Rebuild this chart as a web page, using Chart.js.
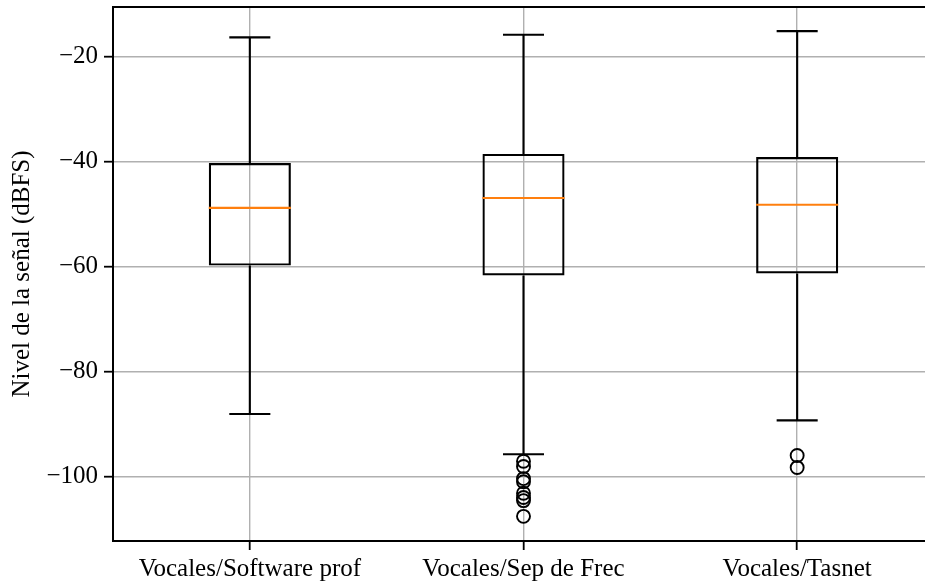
<!DOCTYPE html>
<html>
<head>
<meta charset="utf-8">
<script src="https://cdn.jsdelivr.net/npm/chart.js@4.4.1/dist/chart.umd.min.js"></script>
<style>
  html, body { margin: 0; padding: 0; background: #fff; overflow: hidden; }
  #wrap { width: 925px; height: 582px; overflow: hidden; position: relative; }
  #box-chart { display: block; }
</style>
</head>
<body>
<div id="wrap"><canvas id="box-chart" width="935" height="582"></canvas></div>
<script>
// data (dBFS)
var categories = ["Vocales/Software prof", "Vocales/Sep de Frec", "Vocales/Tasnet"];
var whiskerHigh = [-16.3, -15.8, -15.1];
var q3 = [-40.25, -38.5, -39.1];
var medians = [-48.8, -46.9, -48.2];
var q1 = [-59.8, -61.7, -61.3];
var whiskerLow = [-88.1, -95.75, -89.3];
var outliers = [
    [],
    [-97.1, -98.1, -100.4, -101.0, -103.2, -104.0, -104.6, -107.6],
    [-96.0, -98.3]
];
var yTicks = [-100, -80, -60, -40, -20];
var yMin = -112.3, yMax = -10.5;

var serif = "'Liberation Serif', 'Times New Roman', serif";

// whiskers, caps, medians and the top spine
var boxParts = {
    id: 'boxParts',
    afterDatasetsDraw: function(chart) {
        var ctx = chart.ctx, x = chart.scales.x, y = chart.scales.y;
        var step = x.getPixelForValue(1) - x.getPixelForValue(0);
        var boxHalf = step * 0.15, capHalf = step * 0.075;
        ctx.save();
        ctx.lineCap = 'butt';
        for (var i = 0; i < categories.length; i++) {
            var cx = x.getPixelForValue(i);
            var yHi = y.getPixelForValue(whiskerHigh[i]);
            var yLo = y.getPixelForValue(whiskerLow[i]);
            ctx.strokeStyle = '#000';
            ctx.lineWidth = 2.1;
            ctx.beginPath();
            ctx.moveTo(cx, y.getPixelForValue(q3[i]));
            ctx.lineTo(cx, yHi);
            ctx.moveTo(cx, y.getPixelForValue(q1[i]));
            ctx.lineTo(cx, yLo);
            ctx.moveTo(cx - capHalf, yHi);
            ctx.lineTo(cx + capHalf, yHi);
            ctx.moveTo(cx - capHalf, yLo);
            ctx.lineTo(cx + capHalf, yLo);
            ctx.stroke();

            var ym = y.getPixelForValue(medians[i]);
            ctx.strokeStyle = '#ff7f0e';
            ctx.beginPath();
            ctx.moveTo(cx - boxHalf, ym);
            ctx.lineTo(cx + boxHalf, ym);
            ctx.stroke();
        }
        var a = chart.chartArea;
        ctx.strokeStyle = '#000';
        ctx.lineWidth = 2;
        ctx.beginPath();
        ctx.moveTo(a.left, a.top);
        ctx.lineTo(a.right, a.top);
        ctx.stroke();
        ctx.restore();
    }
};

var flierPoints = [];
outliers.forEach(function(list, i) {
    list.forEach(function(v) { flierPoints.push({x: categories[i], y: v}); });
});

var chartData = {
    labels: categories,
    datasets: [{
        type: 'bar',
        label: 'caja',
        data: categories.map(function(c, i) { return [q1[i], q3[i]]; }),
        backgroundColor: 'rgba(0,0,0,0)',
        borderColor: '#000',
        borderWidth: 2.2,
        borderSkipped: false,
        barPercentage: 0.3,
        categoryPercentage: 1.0
    }, {
        type: 'line',
        label: 'atipicos',
        data: flierPoints,
        showLine: false,
        pointStyle: 'circle',
        pointRadius: 6.5,
        pointBorderWidth: 1.9,
        pointBorderColor: '#000',
        pointBackgroundColor: 'rgba(0,0,0,0)'
    }]
};

var chartOptions = {
    responsive: false,
    animation: false,
    devicePixelRatio: 1,
    // the right spine sits just past the visible edge, as in the reference
    layout: { autoPadding: false, padding: { top: 7, right: 1, left: 0, bottom: 0 } },
    plugins: {
        legend: { display: false },
        tooltip: { enabled: false }
    },
    scales: {
        x: {
            type: 'category',
            offset: true,
            grid: { offset: false, color: '#b0b0b0', lineWidth: 1.4, tickColor: '#000', tickWidth: 1.8, tickLength: 9 },
            border: { color: '#000', width: 2 },
            ticks: { color: '#000', font: { family: serif, size: 25 }, padding: 4, maxRotation: 0, autoSkip: false },
            afterFit: function(scale) {
                scale.height = 41;
                scale.paddingLeft = 0;
                scale.paddingRight = 0;
            }
        },
        y: {
            min: yMin,
            max: yMax,
            grid: { color: '#b0b0b0', lineWidth: 1.4, tickColor: '#000', tickWidth: 1.8, tickLength: 9 },
            border: { color: '#000', width: 2 },
            afterBuildTicks: function(scale) {
                scale.ticks = yTicks.map(function(v) { return { value: v }; });
            },
            ticks: {
                color: '#000',
                font: { family: serif, size: 25 },
                padding: 6,
                callback: function(v) { return v < 0 ? '\u2212' + Math.abs(v) : String(v); }
            },
            title: {
                display: true,
                text: 'Nivel de la señal (dBFS)',
                color: '#000',
                font: { family: serif, size: 25 },
                padding: { top: 7, bottom: 0 }
            },
            afterFit: function(scale) {
                scale.width = 113;
                scale.paddingTop = 0;
                scale.paddingBottom = 0;
            }
        }
    }
};

var ctx = document.getElementById('box-chart');
var boxChart = new Chart(ctx, {
    type: 'bar',
    data: chartData,
    options: chartOptions,
    plugins: [boxParts]
});
</script>
</body>
</html>
